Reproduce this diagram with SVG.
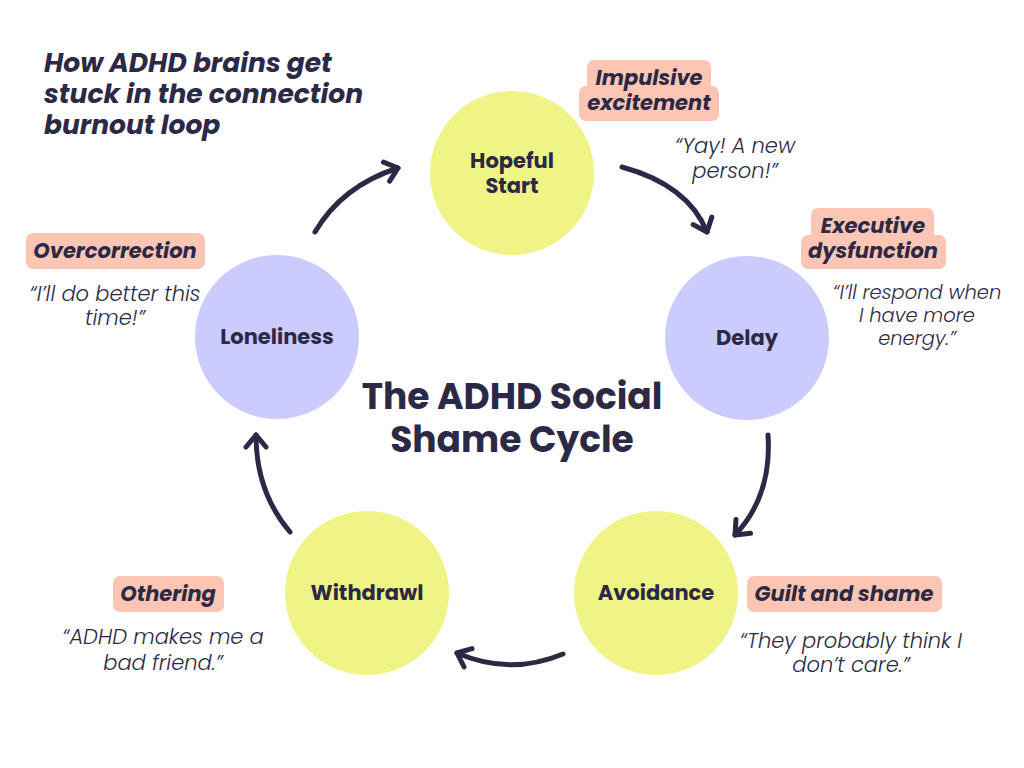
<svg xmlns="http://www.w3.org/2000/svg" width="1024" height="768" viewBox="0 0 1024 768">
<style>
text{font-family:Poppins,Inter,"Noto Sans",sans-serif;fill:#2B2946}
.node{font-weight:700;font-size:21px;text-anchor:middle}
.tag{font-weight:700;font-style:italic;font-size:21px;text-anchor:middle}
.quote{font-style:italic;font-weight:300;font-size:21px;text-anchor:middle}
.small{font-size:19.5px}
.head{font-weight:700;font-style:italic;font-size:26.5px}
.title{font-weight:700;font-size:36px;text-anchor:middle}
.yel{fill:#F0F385}
.lav{fill:#CBCBFD}
.box{fill:#FDC6B4}
.arrow{fill:none;stroke:#2B2946;stroke-width:5;stroke-linecap:round;marker-end:url(#arr)}
</style>
<defs>
<marker id="arr" markerUnits="userSpaceOnUse" markerWidth="40" markerHeight="40" viewBox="-20 -20 40 40" refX="0" refY="0" orient="auto" overflow="visible">
<path d="M-12,-10 L0,0 L-12,10" fill="none" stroke="#2B2946" stroke-width="5" stroke-linecap="round" stroke-linejoin="round"/>
</marker>
</defs>
<rect width="1024" height="768" fill="#FFFFFF"/>
<g id="heading">
<text class="head" x="44" y="72">How ADHD brains get</text>
<text class="head" x="44" y="103">stuck in the connection</text>
<text class="head" x="44" y="134">burnout loop</text>
</g>
<g id="center-title">
<text class="title" x="512" y="409">The ADHD Social</text>
<text class="title" x="512" y="452">Shame Cycle</text>
</g>
<g id="connectors">
<path class="arrow" d="M315,232 Q342,186 398,168"/>
<path class="arrow" d="M622,167 Q688,185 707,232"/>
<path class="arrow" d="M768,435 Q772,496 735,535"/>
<path class="arrow" d="M563,654 Q510,676 457,653"/>
<path class="arrow" d="M290,532 Q256,492 256,435"/>
</g>
<g id="node-hopeful">
<circle class="yel" cx="512" cy="173" r="82"/>
<text class="node" x="512" y="168">Hopeful</text>
<text class="node" x="512" y="193">Start</text>
</g>
<g id="node-delay">
<circle class="lav" cx="747" cy="338" r="82"/>
<text class="node" x="747" y="345">Delay</text>
</g>
<g id="node-avoidance">
<circle class="yel" cx="656" cy="593" r="82"/>
<text class="node" x="656" y="600">Avoidance</text>
</g>
<g id="node-withdrawl">
<circle class="yel" cx="367" cy="593" r="82"/>
<text class="node" x="367" y="600">Withdrawl</text>
</g>
<g id="node-loneliness">
<circle class="lav" cx="277" cy="337" r="82"/>
<text class="node" x="277" y="344">Loneliness</text>
</g>
<g id="label-impulsive">
<rect class="box" x="587" y="60" width="124" height="34" rx="7"/>
<rect class="box" x="579" y="86" width="140" height="35" rx="7"/>
<text class="tag" x="649" y="85">Impulsive</text>
<text class="tag" x="649" y="110">excitement</text>
<text class="quote" x="735" y="153">“Yay! A new</text>
<text class="quote" x="735" y="178">person!”</text>
</g>
<g id="label-executive">
<rect class="box" x="811" y="208" width="123" height="34" rx="7"/>
<rect class="box" x="801" y="235" width="145" height="34" rx="7"/>
<text class="tag" x="873" y="233">Executive</text>
<text class="tag" x="873" y="258">dysfunction</text>
<text class="quote small" x="917" y="299">“I’ll respond when</text>
<text class="quote small" x="917" y="322">I have more</text>
<text class="quote small" x="917" y="345">energy.”</text>
</g>
<g id="label-overcorrection">
<rect class="box" x="26" y="233" width="179" height="36" rx="7"/>
<text class="tag" x="115" y="258">Overcorrection</text>
<text class="quote" x="115" y="301">“I’ll do better this</text>
<text class="quote" x="115" y="325">time!”</text>
</g>
<g id="label-othering">
<rect class="box" x="113" y="576" width="111" height="36" rx="7"/>
<text class="tag" x="168" y="601">Othering</text>
<text class="quote" x="163" y="644">“ADHD makes me a</text>
<text class="quote" x="163" y="670">bad friend.”</text>
</g>
<g id="label-guilt">
<rect class="box" x="747" y="576" width="195" height="36" rx="7"/>
<text class="tag" x="844" y="601">Guilt and shame</text>
<text class="quote" x="851" y="648">“They probably think I</text>
<text class="quote" x="851" y="672">don’t care.”</text>
</g>
</svg>
